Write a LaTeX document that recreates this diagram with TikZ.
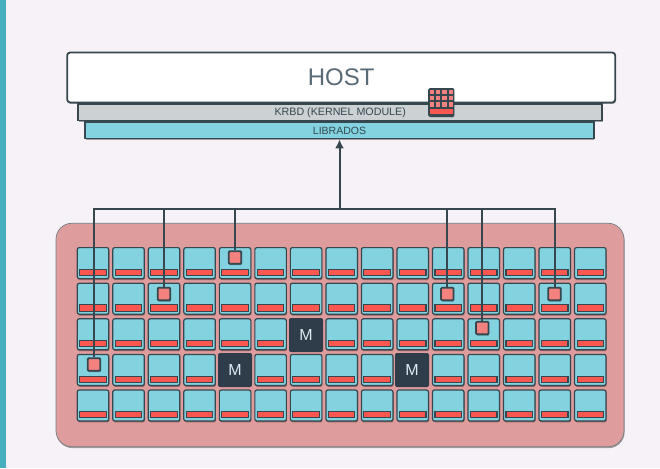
\documentclass[tikz,border=0pt]{standalone}
\usepackage{fontspec}
\setmainfont{Liberation Sans}
\usetikzlibrary{arrows.meta,positioning,shadows}
\definecolor{ink}{HTML}{36474F}
\definecolor{pagebg}{HTML}{F6F2F7}
\definecolor{stripbg}{HTML}{47AEBE}
\definecolor{clusterbg}{HTML}{DE9C9C}
\definecolor{tilebg}{HTML}{82D2DF}
\definecolor{krbdbg}{HTML}{CCD1D4}
\definecolor{barbg}{HTML}{FB5751}
\definecolor{slotbg}{HTML}{F3827E}
\definecolor{monbg}{HTML}{2E3D49}
\definecolor{hosttext}{HTML}{5A6B78}
\definecolor{montext}{HTML}{DCEBF2}

\begin{document}
\begin{tikzpicture}[
  x=1pt,y=-1pt,
  soft/.style={drop shadow={shadow xshift=.6pt,shadow yshift=-1.4pt,opacity=.35,fill=black}},
  hostbox/.style={draw=ink,line width=1.8pt,rounded corners=3pt,fill=white,soft,
                  minimum width=548pt,minimum height=50pt,inner sep=0pt,
                  text=hosttext,font=\fontsize{24}{24}\selectfont},
  layerbox/.style={draw=ink,line width=1.8pt,soft,minimum height=16.2pt,inner sep=0pt,
                   text=ink,font=\fontsize{10.7}{11}\selectfont},
  cluster/.style={draw=ink!70,line width=.7pt,rounded corners=16pt,fill=clusterbg,soft,
                  minimum width=568pt,minimum height=223.5pt,inner sep=0pt},
  tile/.style={draw=ink,line width=1.2pt,rounded corners=2pt,fill=tilebg,soft,
               minimum width=31.5pt,minimum height=31pt,inner sep=0pt},
  bar/.style={draw=ink,line width=1.1pt,fill=barbg,minimum width=26.5pt,minimum height=6.2pt,inner sep=0pt},
  mon/.style={rounded corners=2pt,fill=monbg,minimum size=34pt,inner sep=0pt,
              text=montext,font=\fontsize{16}{16}\selectfont},
  slot/.style={draw=ink,line width=1.8pt,rounded corners=1pt,fill=slotbg,soft,minimum size=12.5pt,inner sep=0pt},
  cell/.style={fill=slotbg,minimum size=4.2pt,inner sep=0pt},
  link/.style={draw=ink,line width=2pt},
  arr/.style={-{Latex[length=9pt,width=9pt]},line width=2pt,draw=ink}]

\useasboundingbox (0,0) rectangle (660,468);
\fill[pagebg] (0,0) rectangle (660,468);
\fill[stripbg] (0,0) rectangle (5.5,468);

% host side
\node[hostbox] (host) at (341.2,77.5) {\raisebox{-1pt}{HOST}};
\node[layerbox,fill=krbdbg,minimum width=524pt,below=0pt of host.south,xshift=-1pt] (krbd) {KRBD (KERNEL MODULE)};
\node[layerbox,fill=tilebg,minimum width=508.5pt,below=0pt of krbd.south,xshift=-.7pt,font=\fontsize{10.5}{11}\selectfont] (librados) {LIBRADOS};

% cache
\node[draw=ink,line width=1.8pt,rounded corners=1pt,fill=ink,soft,minimum width=24.5pt,minimum height=27pt,inner sep=0pt] (cache) at (441.3,102.5) {};
\foreach \r in {1,2,3}
  \foreach \c in {1,2,3,4}
    \node[cell] (cell-\r-\c) at ({425.2+6.4*\c},{86.2+6.1*\r}) {};
\node[fill=barbg,minimum width=22.5pt,minimum height=5.4pt,inner sep=0pt] (cachebar) at (441.3,111.6) {};

% cluster
\node[cluster] (osds) at (340,335) {};
\foreach \r/\cols in {1/{1,...,15},2/{1,...,15},3/{1,2,3,4,5,6,8,9,10,11,12,13,14,15},
                      4/{1,2,3,4,6,7,8,9,11,12,13,14,15},5/{1,...,15}}
  \foreach \c in \cols {
    \node[tile] (tile-\r-\c) at ({57.5+35.52*\c},{227.5+35.6*\r}) {};
    \node[bar,above=3.2pt of tile-\r-\c.south] (bar-\r-\c) {};
  }

\node[mon] (mon1) at (306,335) {M};
\node[mon] (mon2) at (235,370) {M};
\node[mon] (mon3) at (412,370) {M};

% objects
\node[slot] (obj1) at (94,364.5) {};
\node[slot] (obj2) at (164,294) {};
\node[slot] (obj3) at (235,257.5) {};
\node[slot] (obj4) at (447.3,294) {};
\node[slot] (obj5) at (482.3,328) {};
\node[slot] (obj6) at (554.5,294) {};

\coordinate (bus) at (librados.south |- 0,209);
\draw[link] (obj1.north) |- (bus);
\draw[link] (obj2.north) |- (bus);
\draw[link] (obj3.north) |- (bus);
\draw[link] (obj4.north) |- (bus);
\draw[link] (obj5.north) |- (bus);
\draw[link] (obj6.north) |- (bus);
\draw[arr] (bus) -- (librados.south);
\end{tikzpicture}
\end{document}
